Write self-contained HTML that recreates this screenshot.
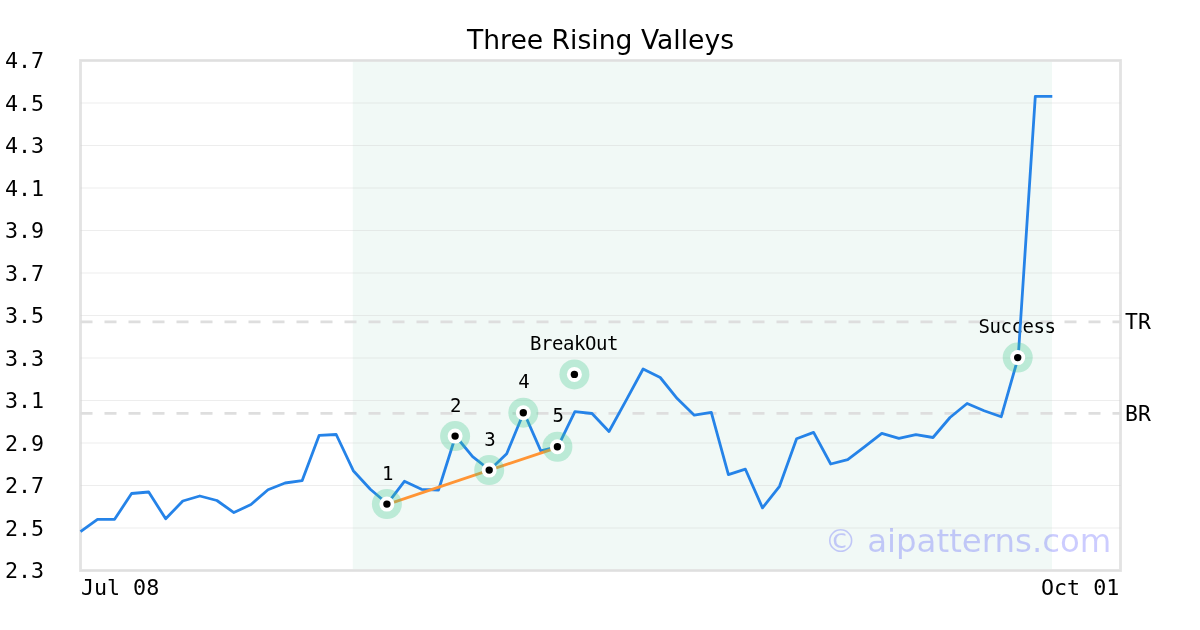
<!DOCTYPE html>
<html lang="en"><head><meta charset="utf-8"><title>Three Rising Valleys</title>
<style>html,body{margin:0;padding:0;background:#fff;overflow:hidden}svg{display:block;will-change:transform}text{fill:#000}.m{font-family:"DejaVu Sans Mono","Liberation Mono",monospace}.s{font-family:"DejaVu Sans","Liberation Sans",sans-serif}</style></head><body>
<svg width="1200" height="630" viewBox="0 0 1200 630">
<rect width="1200" height="630" fill="#fff"/>
<rect x="352.8" y="60.5" width="699.2" height="510.0" fill="#f1f9f6"/>
<rect x="80.5" y="60.5" width="1040.0" height="510.0" fill="none" stroke="#e3e3e3" stroke-width="2.8"/>
<path d="M80.5 528.0H1120.5M80.5 485.5H1120.5M80.5 443.0H1120.5M80.5 400.5H1120.5M80.5 358.0H1120.5M80.5 315.5H1120.5M80.5 273.0H1120.5M80.5 230.5H1120.5M80.5 188.0H1120.5M80.5 145.5H1120.5M80.5 103.0H1120.5" stroke="#d2d2d2" stroke-opacity="0.4" stroke-width="1" fill="none"/>
<path d="M80.5 60.5H1120.5M80.5 570.5H1120.5" stroke="#d2d2d2" stroke-opacity="0.25" stroke-width="1" fill="none"/>
<path d="M80.5 321.8H1120.5M80.5 413.3H1120.5" stroke="#dedede" stroke-width="2.8" stroke-dasharray="12 12" fill="none"/>
<text class="s" x="1111.4" y="552.4" font-size="32.4" text-anchor="end" style="fill:#0000ff;fill-opacity:0.2">© aipatterns.com</text>
<text class="m" x="387.4" y="480" font-size="19" letter-spacing="-0.44" text-anchor="middle">1</text>
<text class="m" x="455.6" y="412" font-size="19" letter-spacing="-0.44" text-anchor="middle">2</text>
<text class="m" x="489.7" y="446" font-size="19" letter-spacing="-0.44" text-anchor="middle">3</text>
<text class="m" x="523.8" y="388" font-size="19" letter-spacing="-0.44" text-anchor="middle">4</text>
<text class="m" x="557.9" y="422" font-size="19" letter-spacing="-0.44" text-anchor="middle">5</text>
<text class="m" x="573.9" y="350" font-size="19" letter-spacing="-0.44" text-anchor="middle">BreakOut</text>
<text class="m" x="1017.0" y="333" font-size="19" letter-spacing="-0.44" text-anchor="middle">Success</text>
<polyline points="80.5,531.6 97.5,519.3 114.6,519.3 131.6,493.5 148.7,492.0 165.7,518.8 182.8,501.0 199.8,496.0 216.9,500.5 233.9,512.6 251.0,504.5 268.0,489.7 285.1,483.0 302.1,480.7 319.2,435.3 336.2,434.5 353.3,470.7 370.3,489.3 387.4,503.7 404.4,481.3 421.5,489.3 438.5,490.0 455.6,436.0 472.6,456.7 489.7,470.0 506.7,453.7 523.8,412.3 540.8,450.9 557.9,446.7 574.9,411.6 592.0,413.5 609.0,431.5 626.1,400.3 643.1,369.0 660.2,377.5 677.2,398.6 694.3,415.2 711.3,412.4 728.4,474.6 745.4,469.2 762.5,507.9 779.5,486.3 796.6,438.7 813.6,432.4 830.7,464.0 847.7,459.7 864.8,446.7 881.8,433.3 898.9,438.4 915.9,434.6 933.0,437.5 950.0,417.5 967.1,403.5 984.1,410.8 1001.2,416.8 1018.2,357.5 1035.3,96.4 1052.3,96.4" fill="none" stroke="#2583e8" stroke-width="2.8" stroke-linejoin="round" stroke-linecap="butt"/>
<line x1="387.4" y1="504.3" x2="557.9" y2="447.3" stroke="#ff9535" stroke-width="2.8"/>
<circle cx="386.9" cy="504.1" r="15" fill="rgb(64,200,140)" fill-opacity="0.3"/><circle cx="386.9" cy="504.1" r="7.5" fill="#fff"/><circle cx="386.9" cy="504.1" r="3.7" fill="#000"/>
<circle cx="455.1" cy="436.1" r="15" fill="rgb(64,200,140)" fill-opacity="0.3"/><circle cx="455.1" cy="436.1" r="7.5" fill="#fff"/><circle cx="455.1" cy="436.1" r="3.7" fill="#000"/>
<circle cx="489.2" cy="470.1" r="15" fill="rgb(64,200,140)" fill-opacity="0.3"/><circle cx="489.2" cy="470.1" r="7.5" fill="#fff"/><circle cx="489.2" cy="470.1" r="3.7" fill="#000"/>
<circle cx="523.3" cy="412.7" r="15" fill="rgb(64,200,140)" fill-opacity="0.3"/><circle cx="523.3" cy="412.7" r="7.5" fill="#fff"/><circle cx="523.3" cy="412.7" r="3.7" fill="#000"/>
<circle cx="557.4" cy="446.8" r="15" fill="rgb(64,200,140)" fill-opacity="0.3"/><circle cx="557.4" cy="446.8" r="7.5" fill="#fff"/><circle cx="557.4" cy="446.8" r="3.7" fill="#000"/>
<circle cx="574.4" cy="374.4" r="15" fill="rgb(64,200,140)" fill-opacity="0.3"/><circle cx="574.4" cy="374.4" r="7.5" fill="#fff"/><circle cx="574.4" cy="374.4" r="3.7" fill="#000"/>
<circle cx="1017.7" cy="357.6" r="15" fill="rgb(64,200,140)" fill-opacity="0.3"/><circle cx="1017.7" cy="357.6" r="7.5" fill="#fff"/><circle cx="1017.7" cy="357.6" r="3.7" fill="#000"/>
<text class="m" x="5" y="578.0" font-size="21.7">2.3</text>
<text class="m" x="5" y="535.5" font-size="21.7">2.5</text>
<text class="m" x="5" y="493.0" font-size="21.7">2.7</text>
<text class="m" x="5" y="450.5" font-size="21.7">2.9</text>
<text class="m" x="5" y="408.0" font-size="21.7">3.1</text>
<text class="m" x="5" y="365.5" font-size="21.7">3.3</text>
<text class="m" x="5" y="323.0" font-size="21.7">3.5</text>
<text class="m" x="5" y="280.5" font-size="21.7">3.7</text>
<text class="m" x="5" y="238.0" font-size="21.7">3.9</text>
<text class="m" x="5" y="195.5" font-size="21.7">4.1</text>
<text class="m" x="5" y="153.0" font-size="21.7">4.3</text>
<text class="m" x="5" y="110.5" font-size="21.7">4.5</text>
<text class="m" x="5" y="68.0" font-size="21.7">4.7</text>
<text class="m" x="80.9" y="595" font-size="21.7">Jul 08</text>
<text class="m" x="1119.3" y="595" font-size="21.7" text-anchor="end">Oct 01</text>
<text class="m" x="1125" y="329.3" font-size="21.4">TR</text>
<text class="m" x="1125" y="420.8" font-size="21.4">BR</text>
<text class="s" x="600.5" y="48.5" font-size="26.6" text-anchor="middle">Three Rising Valleys</text>
</svg></body></html>
